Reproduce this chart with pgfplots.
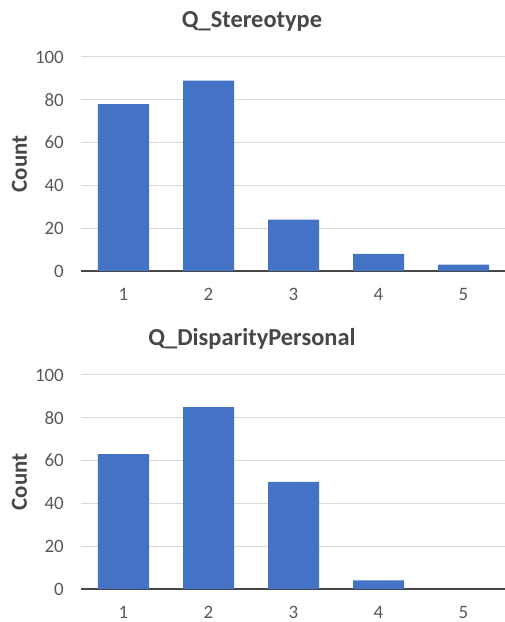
\documentclass[border=0pt]{standalone}
\usepackage{pgfplots}
\pgfplotsset{compat=1.18}
\usepackage{fontspec}
\setmainfont{Carlito}
\definecolor{barblue}{HTML}{4472C4}
\definecolor{gridgray}{HTML}{D9D9D9}
\definecolor{txtgray}{HTML}{595959}
\pgfplotsset{
  mychart/.style={
    scale only axis,
    width=425bp, height=214bp,
    anchor=south west,
    xmin=0.5, xmax=5.5, ymin=0, ymax=100,
    xtick={1,2,3,4,5},
    ytick={0,20,40,60,80,100},
    ymajorgrids,
    grid style={gridgray, line width=1bp},
    axis x line*=bottom, axis y line*=left,
    x axis line style={-, txtgray!80!black, line width=1.5bp},
    y axis line style={draw=none},
    major tick length=0pt,
    tick style={draw=none},
    /pgf/number format/assume math mode=true,
    tick label style={font=\fontsize{19}{22}\selectfont, text=txtgray},
    xticklabel style={anchor=north, inner sep=0pt, yshift=-17bp},
    yticklabel style={anchor=east, inner sep=0pt, xshift=-17bp},
    ylabel={Count},
    ylabel style={font=\fontsize{23}{26}\selectfont\bfseries, text=txtgray!80!black,
      at={(axis description cs:-0.1447,0.5)}, anchor=center},
    title style={font=\fontsize{24.5}{28}\selectfont\bfseries, text=txtgray!80!black, at={(axis description cs:0.5,1)}, anchor=base, yshift=24bp, xshift=-41.5bp},
    ybar, bar width=51bp,
  }
}
\begin{document}
\begin{tikzpicture}
\path[use as bounding box] (0,0) rectangle (505bp,622bp);
\begin{axis}[mychart, at={(81bp,351bp)}, title={Q\_Stereotype}]
\addplot[fill=barblue, draw=none] coordinates {(1,78) (2,89) (3,24) (4,8) (5,3)};
\end{axis}
\begin{axis}[mychart, at={(81bp,33bp)}, title={Q\_DisparityPersonal}]
\addplot[fill=barblue, draw=none] coordinates {(1,63) (2,85) (3,50) (4,4) (5,0)};
\end{axis}
\end{tikzpicture}
\end{document}
